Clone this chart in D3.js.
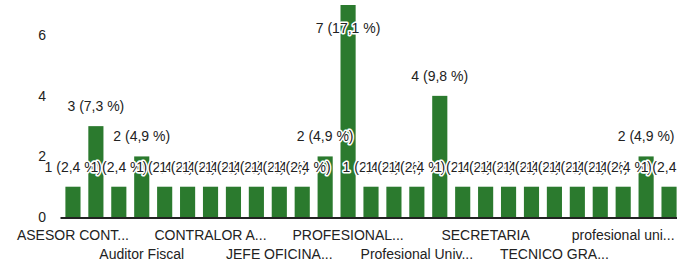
<!DOCTYPE html>
<html>
<head>
<meta charset="utf-8">
<script src="https://cdn.jsdelivr.net/npm/d3@7"></script>
<style>
  body { margin: 0; background: #fff; }
  svg text { font-family: Arial, "Liberation Sans", sans-serif; }
</style>
</head>
<body>
<div id="chart"></div>
<script>
var categories = [
  "ASESOR CONTABLE", "ASESOR JURIDICO", "AUXILIAR ADMINISTRATIVO", "Auditor Fiscal",
  "CONDUCTOR", "CONTADOR", "CONTRALOR AUXILIAR", "CONTRALOR DELEGADO", "DIRECTOR TECNICO",
  "JEFE OFICINA ASESORA", "JEFE OFICINA CONTROL", "PROFESIONAL ESPECIALIZADO",
  "PROFESIONAL UNIVERSITARIO", "Profesional Especializado", "Profesional Universitario I",
  "Profesional Universitario", "SECRETARIA AUXILIAR", "SECRETARIA", "SECRETARIA EJECUTIVA",
  "TECNICO ADMINISTRATIVO", "TECNICO AREA SALUD", "TECNICO GRADO 2", "TECNICO OPERATIVO",
  "auxiliar administrativo", "profesional universitario", "profesional especializado", "tecnico"
];
var values = [1, 3, 1, 2, 1, 1, 1, 1, 1, 1, 1, 2, 7, 1, 1, 1, 4, 1, 1, 1, 1, 1, 1, 1, 1, 2, 1];
var tickLabels = {
  0: "ASESOR CONT...", 3: "Auditor Fiscal", 6: "CONTRALOR A...", 9: "JEFE OFICINA...",
  12: "PROFESIONAL...", 15: "Profesional Univ...", 18: "SECRETARIA", 21: "TECNICO GRA...",
  24: "profesional uni..."
};
var yTicks = [0, 2, 4, 6];

var width = 677, height = 266;
var total = d3.sum(values);
var data = categories.map(function (c, i) { return { name: c, value: values[i], i: i }; });

var svg = d3.select("#chart").append("svg")
  .attr("width", width)
  .attr("height", height);

var x = d3.scaleBand()
  .domain(categories)
  .range([61.5, 680.5])
  .paddingInner(0.34)
  .paddingOuter(0.17);

var y = d3.scaleLinear()
  .domain([0, 7])
  .range([217, 5]);

// y tick labels, no axis line
svg.append("g").selectAll("text")
  .data(yTicks)
  .enter().append("text")
  .attr("x", 46)
  .attr("y", function (d) { return y(d) + 5; })
  .attr("text-anchor", "end")
  .style("font-size", "14px")
  .style("fill", "#222")
  .text(function (d) { return d; });

svg.append("g").selectAll("rect")
  .data(data)
  .enter().append("rect")
  .attr("x", function (d) { return x(d.name); })
  .attr("y", function (d) { return y(d.value); })
  .attr("width", x.bandwidth())
  .attr("height", function (d) { return y(0) - y(d.value); })
  .style("fill", "#2b7a2e");

// baseline
svg.append("line")
  .attr("x1", x.range()[0] - 1)
  .attr("x2", x.range()[1])
  .attr("y1", y(0) + 1)
  .attr("y2", y(0) + 1)
  .style("stroke", "#222")
  .style("stroke-width", 2);

// x labels, every third, staggered on two rows
svg.append("g").selectAll("text")
  .data(data.filter(function (d) { return tickLabels[d.i] !== undefined; }))
  .enter().append("text")
  .attr("x", function (d) { return x(d.name) + x.bandwidth() / 2; })
  .attr("y", function (d) { return (d.i / 3) % 2 === 0 ? 240 : 259; })
  .attr("text-anchor", "middle")
  .style("font-size", "14px")
  .style("fill", "#222")
  .text(function (d) { return tickLabels[d.i]; });

// value labels with white halo, drawn in order so they overlap
var fmt = function (d) {
  var pct = (d.value / total * 100).toFixed(1).replace(".", ",");
  return d.value + " (" + pct + " %)";
};
svg.append("g").selectAll("text")
  .data(data)
  .enter().append("text")
  .attr("x", function (d) { return x(d.name) + x.bandwidth() / 2; })
  .attr("y", function (d) { return Math.max(y(d.value) - 15, 33); })
  .attr("text-anchor", "middle")
  .style("font-size", "14px")
  .style("fill", "#222")
  .style("stroke", "#fff")
  .style("stroke-width", 3)
  .style("paint-order", "stroke")
  .style("stroke-linejoin", "round")
  .text(fmt);
</script>
</body>
</html>
